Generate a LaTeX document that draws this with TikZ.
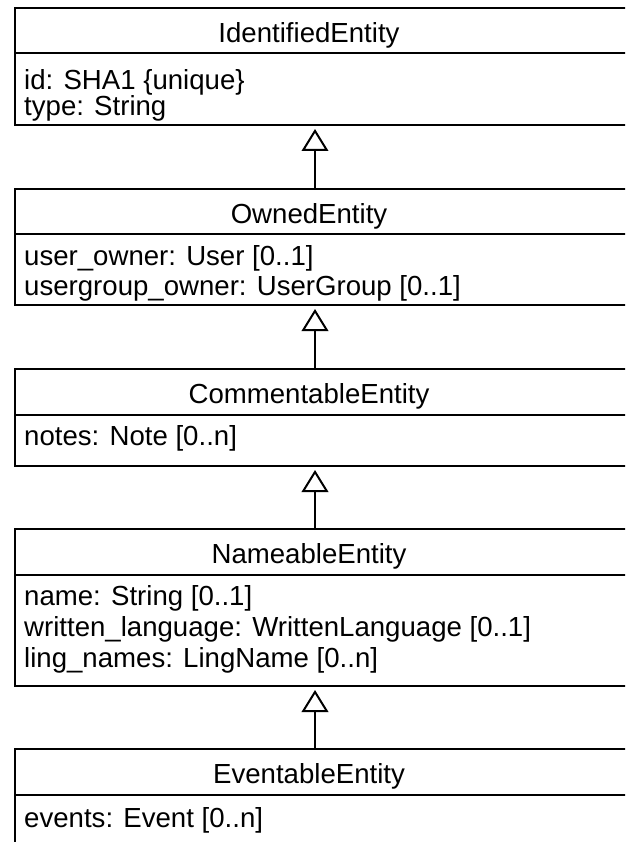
\documentclass[tikz,border=0pt]{standalone}
\usepackage{fontspec}
\setmainfont{Liberation Sans}
\usetikzlibrary{arrows.meta}
\begin{document}
\begin{tikzpicture}[x=1pt,y=-1pt,
  classbox/.style={draw=black, line width=2pt, rectangle, anchor=north west, inner sep=0pt, minimum width=640pt},
  classtitle/.style={anchor=base, inner sep=0pt, font=\fontsize{27.6}{30}\selectfont},
  attr/.style={anchor=base west, inner sep=0pt, font=\fontsize{27.6}{30}\selectfont},
  sepline/.style={line width=2pt},
  inherit/.style={line width=2pt, -{Triangle[open, length=22pt, width=26.6pt, fill=white]}, shorten >=3pt}
]
\path[use as bounding box] (0,0) rectangle (625,842);
\clip (0,0) rectangle (625,842);

% IdentifiedEntity
\node[classbox, minimum height=117pt] (ident) at (14,7) {};
\draw[sepline] (ident.west |- 0,53) -- (ident.east |- 0,53);
\node[classtitle] (identT) at (309,42.7) {IdentifiedEntity};
\node[attr] (identA1) at (24,90) {id: SHA1 \{unique\}};
\node[attr] (identA2) at (24,116) {type: String};

% OwnedEntity
\node[classbox, minimum height=116pt] (owned) at (14,188) {};
\draw[sepline] (owned.west |- 0,234) -- (owned.east |- 0,234);
\node[classtitle] (ownedT) at (309,223.7) {OwnedEntity};
\node[attr] (ownedA1) at (24,265) {user\_owner: User [0..1]};
\node[attr] (ownedA2) at (24,295.5) {usergroup\_owner: UserGroup [0..1]};

% CommentableEntity
\node[classbox, minimum height=97pt] (comm) at (14,368) {};
\draw[sepline] (comm.west |- 0,415) -- (comm.east |- 0,415);
\node[classtitle] (commT) at (309,403.7) {CommentableEntity};
\node[attr] (commA1) at (24,445) {notes: Note [0..n]};

% NameableEntity
\node[classbox, minimum height=157pt] (name) at (14,528) {};
\draw[sepline] (name.west |- 0,575) -- (name.east |- 0,575);
\node[classtitle] (nameT) at (309,563.7) {NameableEntity};
\node[attr] (nameA1) at (24,605) {name: String [0..1]};
\node[attr] (nameA2) at (24,636.5) {written\_language: WrittenLanguage [0..1]};
\node[attr] (nameA3) at (24,667) {ling\_names: LingName [0..n]};

% EventableEntity
\node[classbox, minimum height=122pt] (event) at (14,748) {};
\draw[sepline] (event.west |- 0,795) -- (event.east |- 0,795);
\node[classtitle] (eventT) at (309,783.7) {EventableEntity};
\node[attr] (eventA1) at (24,827) {events: Event [0..n]};

% generalisations
\draw[inherit] (owned.north -| 315,0) -- (ident.south -| 315,0);
\draw[inherit] (comm.north -| 315,0) -- (owned.south -| 315,0);
\draw[inherit] (name.north -| 315,0) -- (comm.south -| 315,0);
\draw[inherit] (event.north -| 315,0) -- (name.south -| 315,0);
\end{tikzpicture}
\end{document}
